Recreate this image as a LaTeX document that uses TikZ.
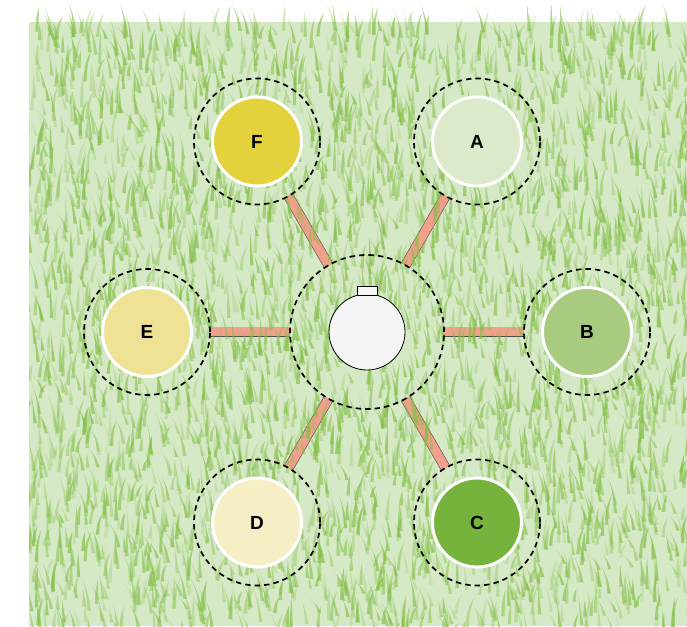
\documentclass[tikz,border=0pt]{standalone}
\usepackage{fontspec}
\setmainfont{Liberation Sans}
\usetikzlibrary{backgrounds}
\definecolor{lawn}{HTML}{D6E9C6}
\definecolor{leaf}{HTML}{84BF48}
\definecolor{pipe}{HTML}{F2A08C}
\definecolor{zoneA}{HTML}{DCEACB}
\definecolor{zoneB}{HTML}{A8CB80}
\definecolor{zoneC}{HTML}{76B33C}
\definecolor{zoneD}{HTML}{F6EFC6}
\definecolor{zoneE}{HTML}{EFE294}
\definecolor{zoneF}{HTML}{E4D23C}
\pgfdeclarelayer{ground}
\pgfdeclarelayer{grass}
\pgfsetlayers{ground,grass,main}
\newcommand*{\RingRadius}{220}
\newcommand*{\GrassPatch}[2]{% #1 = number of blades, #2 = seed
  \pgfmathsetseed{#2}
  \foreach \i in {1,...,#1} {
    \pgfmathsetmacro{\bx}{24+666*rnd}
    \pgfmathsetmacro{\by}{-12+608*rnd}
    \pgfmathsetmacro{\bh}{12+22*rnd}
    \pgfmathsetmacro{\bl}{-9+18*rnd}
    \pgfmathsetmacro{\bo}{0.2+0.5*rnd}
    \fill[leaf, fill opacity=\bo] (\bx,\by)
      .. controls (\bx+0.25*\bl,\by+0.6*\bh) .. (\bx+\bl,\by+\bh)
      .. controls (\bx+0.25*\bl+2,\by+0.5*\bh) .. (\bx+3.5,\by) -- cycle;
  }%
}
\tikzset{
  dashring/.style={circle, draw=black, line width=1.7pt, dash pattern=on 5.5pt off 4pt,
    minimum size=#1, inner sep=0pt, outer sep=0pt},
  zone/.style={circle, fill=#1, draw=white, line width=3pt, minimum size=89pt,
    inner sep=0pt, font=\fontsize{19}{21}\selectfont\bfseries},
  pipeline/.style={draw=black!70, line width=0.6pt, double=pipe, double distance=9pt},
}

\begin{document}
\begin{tikzpicture}[x=1pt,y=1pt]
  \useasboundingbox (0,0) rectangle (687,626);
  % lawn
  \begin{pgfonlayer}{ground}
    \fill[lawn] (29,0) rectangle (687,604);
  \end{pgfonlayer}
  \begin{pgfonlayer}{grass}
    \begin{scope}
      \clip (29,0) rectangle (687,620);
      \GrassPatch{4000}{7}
    \end{scope}
  \end{pgfonlayer}
  % hub
  \node[dashring=154pt] (hub) at (367,294) {};
  \node[circle, fill=black!4, draw=black, line width=0.8pt, minimum size=76pt, inner sep=0pt]
    (core) at (hub) {};
  \node[rectangle, fill=black!4, draw=black, line width=0.8pt, minimum width=20pt,
    minimum height=9pt, inner sep=0pt, anchor=south] (cap) at ([yshift=-2pt]core.north) {};
  % zones
  \foreach \ang/\name in {60/A, 0/B, -60/C, -120/D, 180/E, 120/F} {
    \node[dashring=126pt] (ring\name) at ([shift={(\ang:\RingRadius)}]hub.center) {};
    \node[zone=zone\name] (\name) at (ring\name) {\name};
    \begin{pgfonlayer}{ground}
      \draw[pipeline] (hub.\ang) -- (ring\name.\ang+180);
    \end{pgfonlayer}
  }
\end{tikzpicture}
\end{document}
